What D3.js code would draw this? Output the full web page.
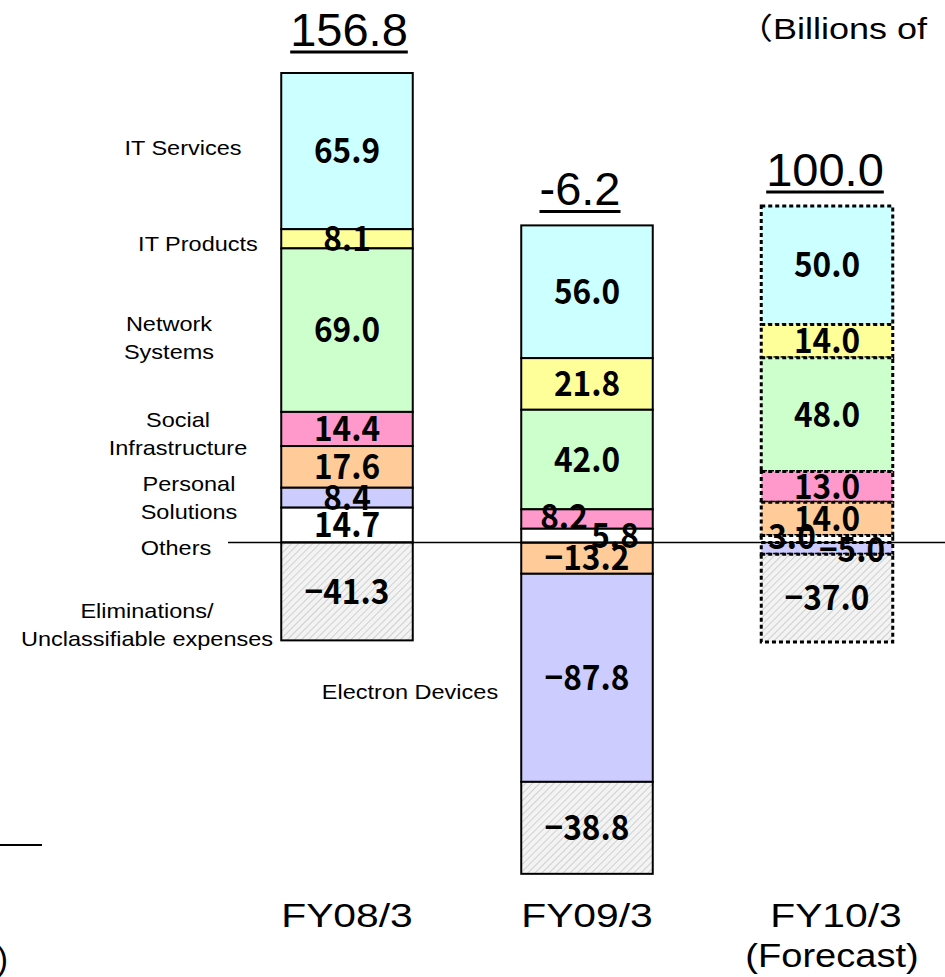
<!DOCTYPE html>
<html>
<head>
<meta charset="utf-8">
<script src="https://cdn.jsdelivr.net/npm/d3@7/dist/d3.min.js"></script>
<style>
  html, body { margin: 0; padding: 0; background: #fff; }
  svg { display: block; }
</style>
</head>
<body>
<svg id="chart" width="945" height="977"></svg>
<script>
// Operating income by segment (billions of yen), top-to-bottom segment order
const years = ["FY08/3", "FY09/3", "FY10/3"];
const yearSubLabels = ["", "", "(Forecast)"];
const segments = [
  "IT Services", "IT Products", "Network Systems", "Social Infrastructure",
  "Personal Solutions", "Electron Devices", "Others", "Eliminations/Unclassifiable expenses"
];
const fy08 = [65.9, 8.1, 69.0, 14.4, 17.6, 8.4, 14.7, -41.3];
const fy09 = [56.0, 21.8, 42.0, 8.2, -13.2, -87.8, 5.8, -38.8];
const fy10 = [50.0, 14.0, 48.0, 13.0, 14.0, -5.0, 3.0, -37.0];
const totals = [156.8, -6.2, 100.0];
const seriesByYear = [fy08, fy09, fy10];

// Segment label text on the left (line-broken)
const segmentLabelLines = [
  ["IT Services"], ["IT Products"], ["Network", "Systems"], ["Social", "Infrastructure"],
  ["Personal", "Solutions"], ["Electron Devices"], ["Others"], ["Eliminations/", "Unclassifiable expenses"]
];

// ---- styling / layout ----
const fills = ["#CCFFFF", "#FFFF99", "#CCFFCC", "#FF99CC", "#FFCC99", "#CCCCFF", "#FFFFFF", "url(#hatch)"];
const forecastIndex = 2;

const svg = d3.select("#chart");
const defs = svg.append("defs");
const hatch = defs.append("pattern")
  .attr("id", "hatch").attr("patternUnits", "userSpaceOnUse")
  .attr("width", 5).attr("height", 5)
  .attr("patternTransform", "rotate(45)");
hatch.append("rect").attr("width", 5).attr("height", 5).attr("fill", "#f3f3f3");
hatch.append("line").attr("x1", 0).attr("y1", 0).attr("x2", 0).attr("y2", 5)
  .attr("stroke", "#c8c8c8").attr("stroke-width", 1.6);

const x = d3.scaleBand().domain(years).range([227, 947])
  .paddingInner(0.452).paddingOuter(0.226);
const y = d3.scaleLinear().domain([-140, 200]).range([542.5 + 140 * 2.37, 542.5 - 200 * 2.37]);

// Stack: positives grow upward from the bottom of the list, negatives grow downward in list order
const stacked = seriesByYear.map((vals, yi) => {
  const out = [];
  let neg = 0;
  vals.forEach((v, si) => {
    if (v < 0) { out[si] = { y0: neg, y1: neg + v }; neg += v; }
  });
  let pos = 0;
  for (let si = vals.length - 1; si >= 0; si--) {
    const v = vals[si];
    if (v >= 0) { out[si] = { y0: pos, y1: pos + v }; pos += v; }
  }
  return out.map((s, si) => ({ year: years[yi], yi, si, value: vals[si], ...s }));
});

const fmt = d3.format(".1f");
const barLayer = svg.append("g");
stacked.forEach(segs => {
  barLayer.selectAll(null).data(segs).enter().append("rect")
    .attr("x", d => x(d.year))
    .attr("width", x.bandwidth())
    .attr("y", d => y(Math.max(d.y0, d.y1)))
    .attr("height", d => Math.abs(y(d.y0) - y(d.y1)))
    .attr("fill", d => fills[d.si])
    .attr("stroke", "#000")
    .attr("stroke-width", d => d.yi === forecastIndex ? 3 : 2)
    .attr("stroke-dasharray", d => d.yi === forecastIndex ? "4,3" : null);
});

// Zero line
svg.append("line").attr("x1", 228).attr("x2", 945).attr("y1", y(0)).attr("y2", y(0))
  .attr("stroke", "#000").attr("stroke-width", 1.5);

// Helper for horizontally stretched text
function stretched(g, px, py, str, opts) {
  return g.append("text")
    .attr("transform", `translate(${px},${py}) scale(${opts.sx || 1},1)`)
    .attr("text-anchor", opts.anchor || "middle")
    .attr("dy", opts.dy || "0.36em")
    .attr("font-family", opts.family || "'Liberation Sans', Arial, sans-serif")
    .attr("font-size", opts.size)
    .attr("font-weight", opts.weight || "normal")
    .attr("fill", "#000")
    .text(str);
}

// Value labels; a few small segments have their labels nudged sideways
const labelNudge = { "1-3": [-23, -2], "1-6": [28, 0], "2-6": [-35, -2], "2-5": [25, 1] };
const labelLayer = svg.append("g");
stacked.forEach(segs => {
  segs.forEach(d => {
    const n = labelNudge[d.yi + "-" + d.si] || [0, 0];
    const cx = x(d.year) + x.bandwidth() / 2 + n[0];
    const cy = (y(d.y0) + y(d.y1)) / 2 + n[1];
    stretched(labelLayer, cx, cy, fmt(d.value), {
      size: 34, sx: 0.93, weight: 700, family: "'Noto Sans CJK JP', 'Liberation Sans', sans-serif"
    });
  });
});

// Totals above each bar, underlined
const totalGap = [27, 20, 20];
const totalDx = [2, -7, -2];
totals.forEach((t, i) => {
  const top = d3.max(stacked[i], d => Math.max(d.y0, d.y1));
  const cx = x(years[i]) + x.bandwidth() / 2 + totalDx[i];
  const base = y(top) - totalGap[i];
  const txt = svg.append("text")
    .attr("x", cx).attr("y", base)
    .attr("text-anchor", "middle")
    .attr("font-family", "'Liberation Sans', Arial, sans-serif")
    .attr("font-size", 47)
    .text(fmt(t).replace("\u2212", "-"));
  const w = txt.node().getComputedTextLength();
  svg.append("line")
    .attr("x1", cx - w / 2).attr("x2", cx + w / 2)
    .attr("y1", base + 6).attr("y2", base + 6)
    .attr("stroke", "#000").attr("stroke-width", 3);
});

// Segment names on the left
const segLabelPos = [
  [183, 147], [198, 243], [169, 337], [178, 433], [189, 497], [410, 691], [176, 547], [147, 624]
];
segmentLabelLines.forEach((lines, si) => {
  const [cx, cy] = segLabelPos[si];
  lines.forEach((ln, li) => {
    stretched(svg, cx, cy + (li - (lines.length - 1) / 2) * 28, ln, { size: 21, sx: 1.12 });
  });
});

// Category axis labels
const yearDx = [0, 0, 9];
years.forEach((yr, i) => {
  const cx = x(yr) + x.bandwidth() / 2 + yearDx[i];
  stretched(svg, cx, 915, yr, { size: 34, sx: 1.2 });
  if (yearSubLabels[i]) stretched(svg, cx - 4, 955, yearSubLabels[i], { size: 34, sx: 1.12 });
});

// Unit note
stretched(svg, 737, 28, "\uFF08Billions of", { size: 30, sx: 1.2, anchor: "start",
  family: "'Liberation Sans', 'Noto Sans CJK JP', sans-serif" });

// Fragments at the lower-left edge
svg.append("line").attr("x1", 0).attr("x2", 42).attr("y1", 845).attr("y2", 845)
  .attr("stroke", "#000").attr("stroke-width", 2);
stretched(svg, 8, 958, ")", { size: 33, anchor: "end" });
</script>
</body>
</html>
